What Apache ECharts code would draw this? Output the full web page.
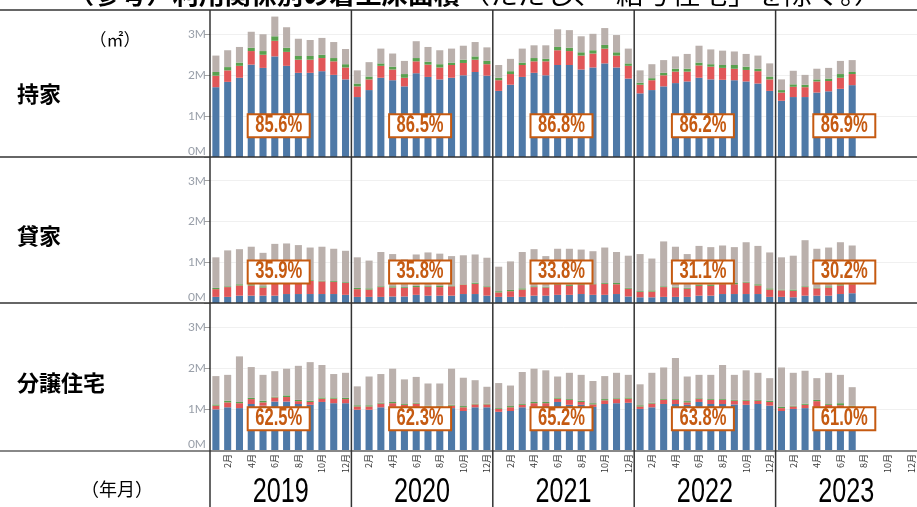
<!DOCTYPE html>
<html><head><meta charset="utf-8">
<script src="https://cdn.jsdelivr.net/npm/echarts@6/dist/echarts.min.js"></script>
<style>html,body{margin:0;padding:0;background:#fff;overflow:hidden}#c{width:917px;height:507px}</style>
</head><body><div id="c"></div>
<script>
// ---- data (million ㎡) ----
const years = ['2019', '2020', '2021', '2022', '2023'];
const monthNames = ['1月','2月','3月','4月','5月','6月','7月','8月','9月','10月','11月','12月'];
const rowLabels = ['持家', '貸家', '分譲住宅'];
const seriesNames = ['A', 'B', 'C', 'D'];
const seriesColors = ['#4e79a7', '#e15759', '#59a14f', '#bab0ac'];
const yTicks = [0, 1, 2, 3];
const yMax = 3.58;
const titleMain = '（参考）利用関係別の着工床面積';
const titleNote = '（ただし、「給与住宅」を除く。）';

// 持家
const mochiieBlue = [
  1.70,1.83,1.93,2.25,2.17,2.45,2.22,2.05,2.05,2.09,2.00,1.89,
  1.46,1.63,1.93,1.87,1.72,2.04,1.95,1.89,1.93,1.99,2.07,1.98,
  1.61,1.76,1.95,2.05,1.99,2.24,2.24,2.13,2.18,2.28,2.18,1.91,
  1.55,1.63,1.72,1.80,1.84,1.93,1.89,1.88,1.87,1.84,1.79,1.61,
  1.37,1.46,1.46,1.57,1.60,1.66,1.75,null,null,null,null,null];
const mochiieRed = [
  0.28,0.28,0.29,0.33,0.32,0.38,0.34,0.32,0.32,0.32,0.33,0.29,
  0.26,0.26,0.29,0.26,0.21,0.29,0.30,0.29,0.31,0.30,0.30,0.28,
  0.26,0.26,0.29,0.28,0.34,0.36,0.34,0.34,0.34,0.36,0.29,0.31,
  0.21,0.24,0.27,0.28,0.24,0.30,0.31,0.29,0.28,0.28,0.30,0.28,
  0.20,0.25,0.24,0.27,0.25,0.27,0.27,null,null,null,null,null];
const mochiieGreen = [
  0.09,0.08,0.08,0.08,0.09,0.11,0.10,0.09,0.09,0.08,0.08,0.08,
  0.07,0.07,0.06,0.07,0.09,0.08,0.07,0.08,0.06,0.08,0.08,0.08,
  0.06,0.07,0.06,0.08,0.06,0.08,0.08,0.08,0.08,0.09,0.08,0.06,
  0.05,0.05,0.06,0.07,0.07,0.07,0.06,0.07,0.09,0.08,0.06,0.07,
  0.06,0.06,0.06,0.05,0.06,0.09,0.05,null,null,null,null,null];
const mochiieGray = [
  0.40,0.41,0.38,0.39,0.41,0.48,0.50,0.42,0.39,0.41,0.39,0.37,
  0.32,0.35,0.36,0.32,0.32,0.41,0.36,0.34,0.34,0.34,0.35,0.33,
  0.31,0.30,0.34,0.31,0.33,0.43,0.43,0.39,0.40,0.41,0.42,0.36,
  0.30,0.34,0.31,0.30,0.36,0.41,0.36,0.35,0.33,0.31,0.32,0.32,
  0.26,0.33,0.24,0.26,0.26,0.32,0.29,null,null,null,null,null];
const mochiiePct = ['85.6%', '86.5%', '86.8%', '86.2%', '86.9%'];

// 貸家
const kashiyaBlue = [
  0.15,0.15,0.18,0.18,0.18,0.18,0.22,0.22,0.22,0.22,0.22,0.20,
  0.15,0.15,0.15,0.16,0.16,0.20,0.18,0.18,0.18,0.22,0.22,0.18,
  0.15,0.15,0.15,0.18,0.18,0.20,0.20,0.22,0.20,0.20,0.22,0.16,
  0.14,0.14,0.15,0.15,0.15,0.18,0.18,0.22,0.22,0.22,0.22,0.15,
  0.15,0.14,0.18,0.18,0.18,0.22,0.24,null,null,null,null,null];
const kashiyaRed = [
  0.19,0.24,0.25,0.25,0.20,0.30,0.30,0.28,0.32,0.31,0.30,0.29,
  0.19,0.18,0.24,0.22,0.21,0.19,0.22,0.21,0.23,0.23,0.25,0.21,
  0.11,0.14,0.18,0.21,0.20,0.25,0.22,0.22,0.26,0.27,0.24,0.19,
  0.13,0.14,0.24,0.23,0.20,0.24,0.24,0.24,0.24,0.28,0.21,0.18,
  0.16,0.16,0.21,0.18,0.20,0.21,0.22,null,null,null,null,null];
const kashiyaGreen = [
  0.03,0.02,0.03,0.03,0.03,0.02,0.02,0.02,0.02,0.02,0.02,0.02,
  0.03,0.03,0.02,0.03,0.02,0.03,0.02,0.04,0.02,0.01,0.03,0.02,
  0.03,0.03,0.03,0.02,0.02,0.02,0.03,0.02,0.02,0.02,0.03,0.02,
  0.02,0.03,0.02,0.02,0.02,0.03,0.03,0.02,0.03,0.02,0.03,0.03,
  0.02,0.03,0.02,0.02,0.03,0.03,0.02,null,null,null,null,null];
const kashiyaGray = [
  0.75,0.88,0.86,0.92,0.82,0.95,0.92,0.90,0.80,0.83,0.79,0.77,
  0.75,0.68,0.84,0.79,0.68,0.77,0.82,0.78,0.72,0.71,0.69,0.70,
  0.60,0.70,0.89,0.91,0.75,0.86,0.88,0.85,0.79,0.87,0.76,0.79,
  0.91,0.78,1.10,0.98,0.83,0.95,0.92,0.93,0.88,0.97,0.94,0.88,
  0.79,0.83,1.13,0.95,0.95,1.03,0.93,null,null,null,null,null];
const kashiyaPct = ['35.9%', '35.8%', '33.8%', '31.1%', '30.2%'];

// 分譲住宅
const bunjoBlue = [
  0.99,1.04,1.02,1.12,1.08,1.18,1.18,1.12,1.10,1.17,1.14,1.14,
  0.98,0.98,1.04,1.06,1.04,1.05,1.00,1.00,1.02,0.95,1.04,1.04,
  0.93,0.95,1.04,1.06,1.07,1.17,1.10,1.10,1.05,1.12,1.14,1.15,
  1.00,1.04,1.12,1.12,1.10,1.17,1.12,1.12,1.11,1.10,1.12,1.08,
  0.95,1.00,1.02,1.05,1.05,1.04,1.00,null,null,null,null,null];
const bunjoRed = [
  0.09,0.12,0.12,0.12,0.08,0.10,0.11,0.07,0.07,0.08,0.11,0.10,
  0.08,0.08,0.09,0.08,0.06,0.08,0.06,0.06,0.06,0.09,0.07,0.07,
  0.07,0.09,0.06,0.08,0.07,0.08,0.12,0.07,0.06,0.09,0.10,0.10,
  0.06,0.09,0.10,0.10,0.06,0.07,0.10,0.10,0.09,0.10,0.08,0.09,
  0.07,0.06,0.08,0.14,0.05,0.05,0.05,null,null,null,null,null];
const bunjoGreen = [
  0.03,0.04,0.03,0.03,0.04,0.02,0.04,0.03,0.03,0.03,0.03,0.03,
  0.03,0.03,0.02,0.03,0.02,0.02,0.02,0.02,0.02,0.03,0.02,0.02,
  0.02,0.03,0.02,0.03,0.03,0.03,0.02,0.03,0.03,0.03,0.02,0.03,
  0.03,0.02,0.02,0.02,0.03,0.02,0.02,0.02,0.02,0.02,0.02,0.03,
  0.03,0.02,0.03,0.03,0.02,0.05,0.03,null,null,null,null,null];
const bunjoGray = [
  0.69,0.63,1.11,0.75,0.63,0.62,0.65,0.83,0.94,0.79,0.57,0.61,
  0.46,0.70,0.70,0.81,0.60,0.63,0.54,0.54,0.88,0.69,0.57,0.41,
  0.61,0.50,0.78,0.81,0.77,0.51,0.64,0.63,0.54,0.56,0.62,0.55,
  0.51,0.73,0.77,1.00,0.60,0.57,0.59,0.83,0.61,0.72,0.66,0.55,
  0.96,0.80,0.80,0.53,0.76,0.69,0.45,null,null,null,null,null];
const bunjoPct = ['62.5%', '62.3%', '65.2%', '63.8%', '61.0%'];

const rows = [
  { label: rowLabels[0], stacks: [mochiieBlue, mochiieRed, mochiieGreen, mochiieGray], pct: mochiiePct },
  { label: rowLabels[1], stacks: [kashiyaBlue, kashiyaRed, kashiyaGreen, kashiyaGray], pct: kashiyaPct },
  { label: rowLabels[2], stacks: [bunjoBlue, bunjoRed, bunjoGreen, bunjoGray], pct: bunjoPct }
];

const categories = [];
years.forEach(y => monthNames.forEach(m => categories.push(y + '年' + m)));

// ---- chart ----
const chart = echarts.init(document.getElementById('c'), null, { renderer: 'canvas' });
const gridDefs = [
  { left: 210, width: 710, top: 10, height: 147 },
  { left: 210, width: 710, top: 157, height: 146 },
  { left: 210, width: 710, top: 303, height: 147 }
];
const FONT = '"Noto Sans CJK JP", "Noto Sans", sans-serif';

const option = {
  animation: false,
  backgroundColor: '#fff',
  grid: gridDefs,
  xAxis: rows.map((r, i) => ({
    type: 'category', gridIndex: i, data: categories,
    axisLine: { show: false }, axisTick: { show: false },
    axisLabel: i < 2 ? { show: false } : {
      show: true, rotate: 90, fontSize: 9, color: '#333', margin: 4,
      fontFamily: FONT,
      interval: (idx) => idx % 2 === 1,
      formatter: (v) => v.split('年')[1]
    }
  })),
  yAxis: rows.map((r, i) => ({
    type: 'value', gridIndex: i, min: 0, max: yMax, interval: 1,
    axisLine: { show: false },
    axisTick: { show: true, length: 6, lineStyle: { color: '#a0a0a0' }, customValues: yTicks },
    axisLabel: {
      color: '#9aa0aa', fontSize: 12, margin: 4, fontFamily: 'Lato, "Open Sans", sans-serif',
      verticalAlignMinLabel: 'bottom',
      formatter: (v) => (Math.abs(v - Math.round(v)) < 1e-6 ? Math.round(v) + 'M' : '')
    },
    splitLine: { show: true, lineStyle: { color: '#f0f0f0', width: 1 } }
  })),
  series: []
};
rows.forEach((r, i) => {
  r.stacks.forEach((arr, k) => {
    option.series.push({
      type: 'bar', name: r.label + seriesNames[k], xAxisIndex: i, yAxisIndex: i,
      stack: 'row' + i, data: arr, barWidth: '60%',
      itemStyle: { color: seriesColors[k] }, z: 2
    });
  });
});
chart.setOption(option);

// ---- decorations positioned through the axes ----
const xPix = (idx) => chart.convertToPixel({ xAxisIndex: 2 }, categories[idx]);
const yPix = (row, v) => chart.convertToPixel({ yAxisIndex: row }, v);
const G = [];
const W = 917, H = 507;
const topY = yPix(0, yMax);
const rowBottoms = rows.map((r, i) => yPix(i, 0));

// text width helper for fitting the title to its span
const mctx = document.createElement('canvas').getContext('2d');
const textW = (t, f) => { mctx.font = f; return mctx.measureText(t).width; };

// title (clipped at the top like the reference)
const fMain = 'bold 25px ' + FONT, fNote = '25px ' + FONT;
G.push({
  type: 'text', x: 68, y: 7, z: 100, scaleX: 392 / textW(titleMain, fMain),
  style: { text: titleMain, font: fMain, fill: '#000', verticalAlign: 'bottom', textVerticalAlign: 'bottom' }
});
G.push({
  type: 'text', x: 462, y: 7, z: 100, scaleX: 420 / textW(titleNote, fNote),
  style: { text: titleNote, font: fNote, fill: '#000', verticalAlign: 'bottom', textVerticalAlign: 'bottom' }
});
// horizontal frame lines
[topY, rowBottoms[0], rowBottoms[1]].forEach(y => {
  G.push({ type: 'line', z: 100, shape: { x1: 0, y1: y, x2: W, y2: y }, style: { stroke: '#333', lineWidth: 1.5 } });
});
G.push({ type: 'line', z: 100, shape: { x1: 0, y1: rowBottoms[2] + 1, x2: W, y2: rowBottoms[2] + 1 }, style: { stroke: '#888', lineWidth: 2 } });
// vertical year dividers
const yearCenters = [];
years.forEach((y, k) => {
  const first = xPix(k * 12), last = xPix(k * 12 + 11);
  const step = (last - first) / 11;
  const x0 = first - step / 2;
  yearCenters.push((first + last) / 2);
  G.push({ type: 'line', z: 100, shape: { x1: x0, y1: topY, x2: x0, y2: H }, style: { stroke: '#333', lineWidth: 1.5 } });
});
// year labels
years.forEach((y, k) => {
  G.push({
    type: 'text', x: yearCenters[k], y: 492, scaleX: 0.72, z: 100,
    style: { text: y, font: '35px "Liberation Sans", Arial, sans-serif', fill: '#000',
             align: 'center', verticalAlign: 'middle', textAlign: 'center', textVerticalAlign: 'middle' }
  });
});
// percentage boxes
rows.forEach((r, i) => {
  const cy = yPix(i, 0.76);
  r.pct.forEach((p, k) => {
    G.push({
      type: 'group', x: yearCenters[k] - 2, y: cy, z: 110,
      children: [
        { type: 'rect', z: 110, shape: { x: -31, y: -11.5, width: 62, height: 23 },
          style: { fill: '#fff', stroke: '#c55a11', lineWidth: 2 } },
        { type: 'text', z: 111, scaleX: 0.72,
          style: { text: p, font: 'bold 23px "Liberation Sans", Arial, sans-serif', fill: '#c55a11',
                   align: 'center', verticalAlign: 'middle', textAlign: 'center', textVerticalAlign: 'middle' } }
      ]
    });
  });
});
// row labels
const rowLabelY = rows.map((r, i) => (i === 0 ? (topY + rowBottoms[0]) / 2 + 10 : (rowBottoms[i - 1] + rowBottoms[i]) / 2 + 6));
rows.forEach((r, i) => {
  G.push({ type: 'text', x: 17, y: rowLabelY[i], z: 100,
    style: { text: r.label, font: 'bold 22px ' + FONT, fill: '#000', verticalAlign: 'middle', textVerticalAlign: 'middle' } });
});
// unit & axis name
G.push({ type: 'text', x: 115, y: 40, z: 100,
  style: { text: '（㎡）', font: '17px ' + FONT, fill: '#000', align: 'center', verticalAlign: 'middle', textAlign: 'center', textVerticalAlign: 'middle' } });
G.push({ type: 'text', x: 117, y: 489, z: 100,
  style: { text: '（年月）', font: '18px ' + FONT, fill: '#000', align: 'center', verticalAlign: 'middle', textAlign: 'center', textVerticalAlign: 'middle' } });

chart.setOption({ graphic: { elements: G } });
</script>
</body></html>
